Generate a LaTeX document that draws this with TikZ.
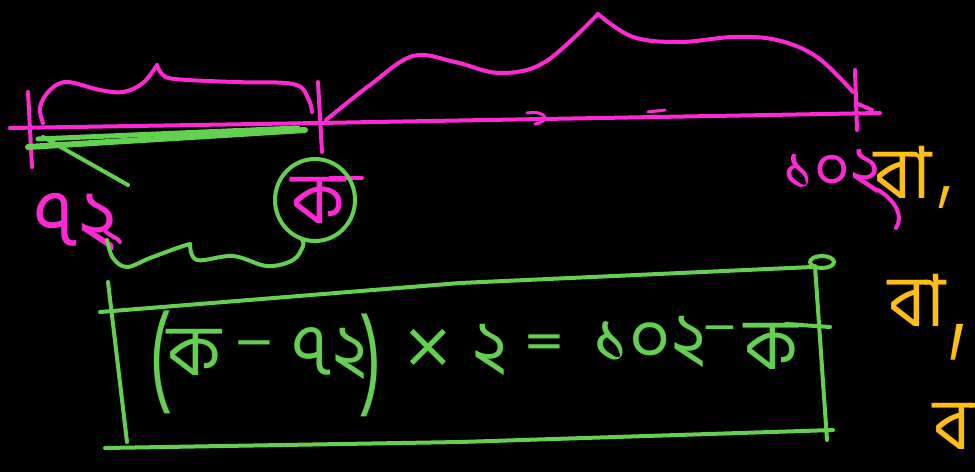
\documentclass[tikz,border=0pt]{standalone}
\usepackage{fontspec}
\usepackage{graphicx}
\usetikzlibrary{shapes.geometric}
\newfontfamily\bn[Script=Bengali]{Hind Siliguri}
\newfontfamily\dv{DejaVu Sans}
\definecolor{pk}{RGB}{255,40,212}
\definecolor{gr}{RGB}{100,208,80}
\definecolor{og}{RGB}{255,190,20}
\tikzset{
  pen/.style={line width=4pt, line cap=round, line join=round},
  pinkpen/.style={pen, draw=pk},
  greenpen/.style={pen, draw=gr},
  txt/.style={inner sep=0pt, anchor=center},
  bigbn/.style={txt, font=\bn\fontsize{72}{72}\selectfont},
}
\begin{document}
\begin{tikzpicture}[x=1pt,y=-1pt]
\fill[black] (0,0) rectangle (975,472);
\useasboundingbox (0,0) rectangle (975,472);
\clip (0,0) rectangle (975,472);

% number line
\coordinate (L0) at (10,128);
\coordinate (M0) at (318,123);
\coordinate (R0) at (880,113);
\draw[pinkpen] (L0) -- (M0) -- (600,118) -- (R0);
% ticks
\coordinate (t1a) at (28,92); \coordinate (t1b) at (32,167);
\draw[pinkpen] (t1a) -- (t1b);
\coordinate (t2a) at (318,82); \coordinate (t2b) at (322,152);
\draw[pinkpen] (t2a) -- (t2b);
\coordinate (t3a) at (855,70); \coordinate (t3b) at (857,130);
\draw[pinkpen] (t3a) -- (t3b);
\draw[pinkpen] (858,104) -- (872,110);
% small blips on line
\draw[pinkpen,line width=3pt] (527,113) .. controls (548,110) and (550,122) .. (535,124);
\draw[pinkpen,line width=3pt] (648,112) -- (665,110);

% left pink brace
\draw[pinkpen] plot[smooth, tension=0.6] coordinates {(43,123) (40,107) (50,90) (67,82) (100,90) (123,92) (143,83) (157,65)};
\draw[pinkpen] plot[smooth, tension=0.6] coordinates {(157,65) (162,74) (175,79) (233,82) (293,84) (308,98) (312,112)};
% right pink brace
\draw[pinkpen] plot[smooth, tension=0.6] coordinates {(326,120) (370,85) (413,56) (455,62) (500,73) (545,62) (598,14)};
\draw[pinkpen] plot[smooth, tension=0.6] coordinates {(598,14) (633,37) (680,42) (733,37) (777,40) (817,57) (853,92)};

% green segment
\draw[greenpen,line width=6pt] (28,147) -- (305,130);
\draw[greenpen,line width=5pt] (38,139) -- (298,128);
\coordinate (gd1) at (43,137); \coordinate (gd2) at (128,185);
\draw[greenpen] (gd1) -- (gd2);

% labels on line
\node[txt, text=pk, font=\bn\fontsize{80}{80}\selectfont] (n72) at (76,222) {৭২};
\draw[pinkpen] (106,232) .. controls (114,238) and (118,238) .. (120,242);
\node[bigbn, text=pk] (kA) at (318,200) {ক};
\draw[pinkpen] (330,178) -- (362,178);
\node[draw=gr, line width=4pt, ellipse, minimum width=80pt, minimum height=82pt, inner sep=0pt] (circ) at (315,200) {};

% green lower brace
\draw[greenpen] plot[smooth, tension=0.6] coordinates {(107,240) (113,258) (127,267) (150,258) (180,247) (190,244)};
\draw[greenpen] plot[smooth, tension=0.6] coordinates {(190,244) (197,260) (233,256) (267,266) (293,260) (303,246) (302,240)};

% 102 and orange labels
\node[txt, text=pk, font=\bn\fontsize{62}{62}\selectfont] (n102) at (832,172) {১০২};
\draw[pinkpen] (878,190) .. controls (895,200) and (904,216) .. (896,228);
\node[bigbn, text=og] (ba1) at (903,172) {বা};
\node[txt, text=og, font=\bn\fontsize{70}{70}\selectfont] (c1) at (946,198) {\scalebox{0.8}[1.4]{,}};
\node[bigbn, text=og] (ba2) at (917,300) {বা};
\node[txt, text=og, font=\bn\fontsize{80}{80}\selectfont] (c2) at (959,342) {\scalebox{0.8}[2.0]{,}};
\node[bigbn, text=og] (ba3) at (962,423) {বা};

% equation box
\coordinate (bTL) at (100,312);
\coordinate (bTM) at (460,283);
\coordinate (bTR) at (812,267);
\draw[greenpen] (bTL) -- (bTM) -- (bTR);
\draw[greenpen] (822,262) ellipse (12pt and 6pt);
\coordinate (bL1) at (108,282); \coordinate (bL2) at (127,442);
\draw[greenpen] (bL1) -- (bL2);
\coordinate (bR1) at (815,266); \coordinate (bR2) at (827,440);
\draw[greenpen] (bR1) -- (bR2);
\coordinate (bB1) at (105,448); \coordinate (bB2) at (460,442); \coordinate (bB3) at (833,430);
\draw[greenpen] (bB1) -- (bB2) -- (bB3);

% equation
\node[txt, text=gr, font=\bn\fontsize{60}{60}\selectfont] (lp) at (160,362) {\scalebox{1.1}[1.9]{(}};
\node[bigbn, text=gr] (k1) at (194,352) {ক};
\node[txt, text=gr, font=\dv\fontsize{50}{50}\selectfont] (m1) at (254,350) {−};
\node[bigbn, text=gr] (e72) at (330,354) {৭২};
\node[txt, text=gr, font=\bn\fontsize{60}{60}\selectfont] (rp) at (372,365) {\scalebox{1.1}[1.9]{)}};
\node[txt, text=gr, font=\dv\fontsize{64}{64}\selectfont] (times) at (428,348) {×};
\node[bigbn, text=gr] (two) at (490,350) {২};
\node[txt, text=gr, font=\dv\fontsize{50}{50}\selectfont] (eq) at (544,346) {=};
\node[bigbn, text=gr] (e102) at (650,342) {১০২};
\node[txt, text=gr, font=\dv\fontsize{44}{44}\selectfont] (m2) at (720,334) {−};
\node[bigbn, text=gr] (k2) at (771,346) {ক};
\draw[greenpen] (786,324) -- (830,327);
\end{tikzpicture}
\end{document}
